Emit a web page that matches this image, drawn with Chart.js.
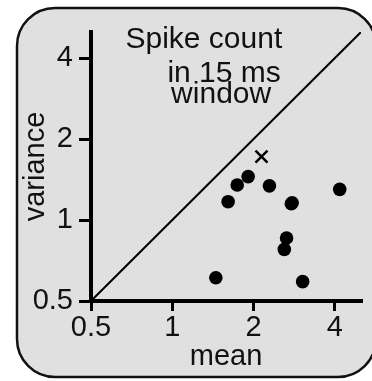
<!DOCTYPE html>
<html>
<head>
<meta charset="utf-8">
<script src="https://cdn.jsdelivr.net/npm/chart.js@4/dist/chart.umd.min.js"></script>
<style>
  html, body { margin: 0; padding: 0; background: #fff; overflow: hidden; }
  canvas { display: block; }
</style>
</head>
<body>
<canvas id="c" width="372" height="381"></canvas>
<script>
// Axis ticks (log scale, both axes) and plotted range
const tickValues = [0.5, 1, 2, 4];
const axisRange = [0.5, 5];

// Individual cells: spike-count mean and variance
const cellMeans     = [1.61, 1.74, 1.91, 2.29, 2.76, 2.78, 4.17, 2.65, 2.60, 1.45, 3.04];
const cellVariances = [1.17, 1.35, 1.45, 1.34, 1.15, 1.16, 1.30, 0.857, 0.778, 0.61, 0.59];

// Pooled estimate, drawn as a cross
const pooledMean = [2.14];
const pooledVariance = [1.72];

// Caption lines inside the plot
const noteLines = ['Spike count', 'in 15 ms', 'window'];

const FONT = "'Liberation Sans', Arial, Helvetica, sans-serif";
const INK = '#111';

const toPoints = (xs, ys) => xs.map((x, i) => ({ x, y: ys[i] }));

// Rounded grey panel behind everything
const panelPlugin = {
  id: 'panel',
  beforeDraw(chart) {
    const ctx = chart.ctx;
    ctx.save();
    ctx.fillStyle = '#fff';
    ctx.fillRect(0, 0, chart.width, chart.height);
    ctx.beginPath();
    ctx.roundRect(17, 8, 359, 369, 38);
    ctx.fillStyle = '#e0e0e0';
    ctx.fill();
    ctx.lineWidth = 2.5;
    ctx.strokeStyle = '#111';
    ctx.stroke();
    ctx.restore();
  }
};

// Caption text placed relative to the chart area
const notePlugin = {
  id: 'note',
  afterDraw(chart) {
    const { ctx, chartArea: a } = chart;
    const w = a.right - a.left, h = a.bottom - a.top;
    const spots = [[0.418, 0.06], [0.493, 0.185], [0.482, 0.263]];
    ctx.save();
    ctx.fillStyle = INK;
    ctx.font = `30px ${FONT}`;
    ctx.textAlign = 'center';
    ctx.textBaseline = 'alphabetic';
    noteLines.forEach((t, i) => {
      ctx.fillText(t, a.left + spots[i][0] * w, a.top + spots[i][1] * h);
    });
    ctx.restore();
  }
};

const axisCommon = (titleText, titlePad, tickLen, tickPad) => ({
  type: 'logarithmic',
  min: axisRange[0],
  max: axisRange[1],
  afterBuildTicks(scale) {
    scale.ticks = tickValues.map(v => ({ value: v }));
  },
  ticks: {
    color: INK,
    font: { family: FONT, size: 29 },
    padding: tickPad,
    autoSkip: false,
    maxRotation: 0,
    callback: v => String(v)
  },
  grid: {
    display: true,
    drawOnChartArea: false,
    drawTicks: true,
    tickLength: tickLen,
    tickWidth: 3,
    tickColor: '#000',
    color: '#000',
    lineWidth: 3
  },
  border: { display: true, color: '#000', width: 4 },
  title: {
    display: true,
    text: titleText,
    color: INK,
    font: { family: FONT, size: 29 },
    padding: titlePad
  }
});

const xAxis = axisCommon('mean', { top: 0, bottom: 7 }, 10, 0);
xAxis.position = 'bottom';
xAxis.afterFit = s => { s.height = 80; };

const yAxis = axisCommon('variance', { top: 19, bottom: 0 }, 12, 6);
yAxis.position = 'left';
yAxis.afterFit = s => { s.width = 91; };

new Chart(document.getElementById('c'), {
  type: 'scatter',
  data: {
    datasets: [
      {
        // identity line, variance = mean
        type: 'line',
        data: toPoints(axisRange, axisRange),
        borderColor: '#000',
        borderWidth: 2,
        pointRadius: 0,
        fill: false,
        order: 3
      },
      {
        data: toPoints(cellMeans, cellVariances),
        backgroundColor: '#000',
        borderWidth: 0,
        pointRadius: 6.8,
        order: 1
      },
      {
        data: toPoints(pooledMean, pooledVariance),
        pointStyle: 'crossRot',
        borderColor: '#000',
        backgroundColor: '#000',
        borderWidth: 2.5,
        pointRadius: 8.5,
        order: 2
      }
    ]
  },
  options: {
    responsive: false,
    animation: false,
    devicePixelRatio: 1,
    layout: { padding: { left: 0, top: 32, right: 7, bottom: 0 } },
    plugins: { legend: { display: false }, tooltip: { enabled: false } },
    scales: { x: xAxis, y: yAxis }
  },
  plugins: [panelPlugin, notePlugin]
});
</script>
</body>
</html>
